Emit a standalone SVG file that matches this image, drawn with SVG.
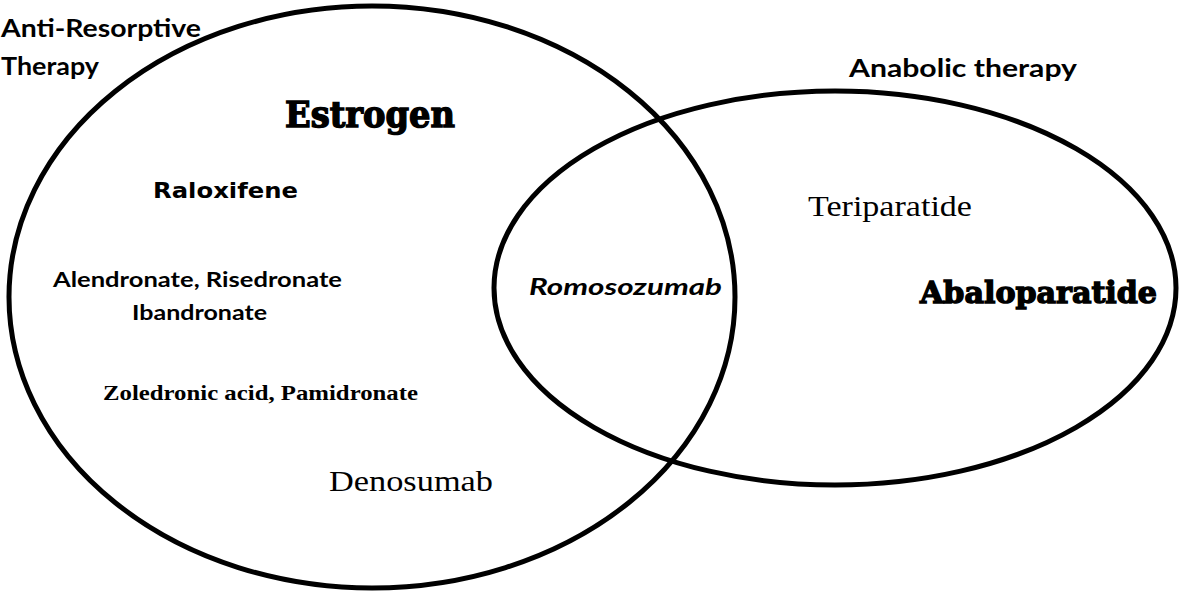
<svg xmlns="http://www.w3.org/2000/svg" width="1199" height="592" viewBox="0 0 1199 592">
<style>
.ring{fill:none;stroke:#000;stroke-width:5}
.cal{font-family:Lato,"Open Sans","Liberation Sans",sans-serif;font-weight:bold;fill:#000}
.coop{font-family:"DejaVu Serif","Liberation Serif",serif;font-weight:bold;fill:#000;stroke:#000;stroke-width:1.4}
.verd{font-family:"DejaVu Sans","Liberation Sans",sans-serif;font-weight:bold;fill:#000}
.tnr{font-family:"Liberation Serif",serif;fill:#000}
</style>
<rect width="1199" height="592" fill="#fff"/>
<g id="connectors"></g>
<g id="anti-resorptive">
<ellipse class="ring" cx="372" cy="297" rx="363" ry="291"/>
<text class="cal" x="1" y="37" font-size="24" textLength="200" lengthAdjust="spacingAndGlyphs">Anti-Resorptive</text>
<text class="cal" x="1" y="75" font-size="24" textLength="98" lengthAdjust="spacingAndGlyphs">Therapy</text>
</g>
<g id="anabolic">
<ellipse class="ring" cx="835" cy="288" rx="341" ry="197"/>
<text class="cal" x="849" y="77" font-size="24" textLength="228" lengthAdjust="spacingAndGlyphs">Anabolic therapy</text>
</g>
<g id="estrogen"><text class="coop" x="285" y="127" font-size="35" textLength="170" lengthAdjust="spacingAndGlyphs">Estrogen</text></g>
<g id="raloxifene"><text class="verd" x="153" y="198" font-size="22" textLength="145" lengthAdjust="spacingAndGlyphs">Raloxifene</text></g>
<g id="bisphosphonates-oral">
<text class="cal" x="53" y="287" font-size="21" textLength="289" lengthAdjust="spacingAndGlyphs">Alendronate, Risedronate</text>
<text class="cal" x="132" y="320" font-size="21" textLength="135" lengthAdjust="spacingAndGlyphs">Ibandronate</text>
</g>
<g id="bisphosphonates-iv"><text class="tnr" x="103" y="400" font-size="21" font-weight="bold" textLength="315" lengthAdjust="spacingAndGlyphs">Zoledronic acid, Pamidronate</text></g>
<g id="denosumab"><text class="tnr" x="329" y="491" font-size="29" textLength="164" lengthAdjust="spacingAndGlyphs">Denosumab</text></g>
<g id="romosozumab"><text class="cal" x="529" y="295" font-size="22" font-style="italic" textLength="193" lengthAdjust="spacingAndGlyphs">Romosozumab</text></g>
<g id="teriparatide"><text class="tnr" x="808" y="216" font-size="29" textLength="164" lengthAdjust="spacingAndGlyphs">Teriparatide</text></g>
<g id="abaloparatide"><text class="coop" x="920" y="303" font-size="30" textLength="237" lengthAdjust="spacingAndGlyphs">Abaloparatide</text></g>
</svg>
